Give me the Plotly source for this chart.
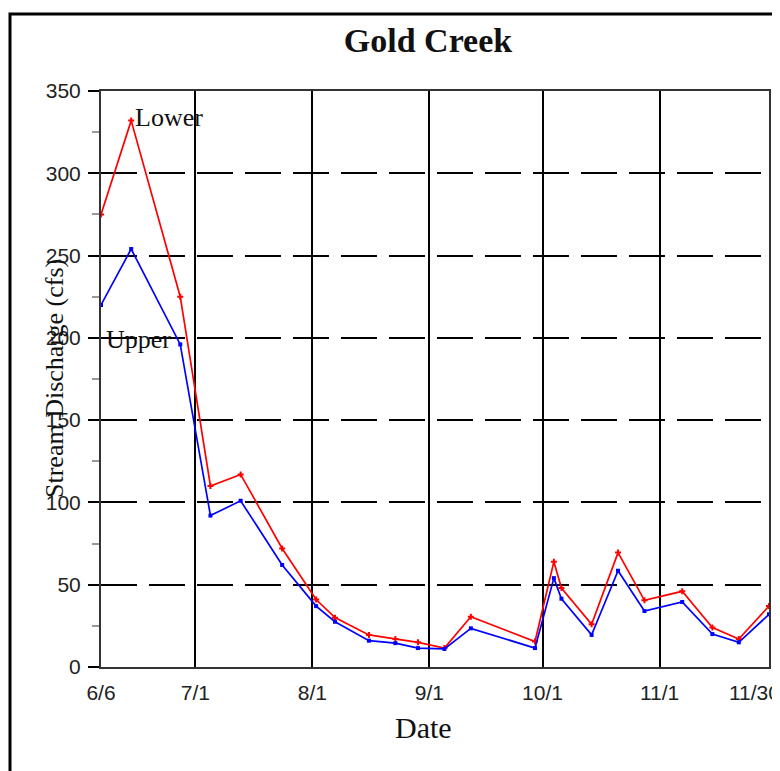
import plotly.graph_objects as go

# ---- data ----
dates = ["2001-06-06", "2001-06-14", "2001-06-27", "2001-07-05", "2001-07-13",
         "2001-07-24", "2001-08-02", "2001-08-07", "2001-08-16", "2001-08-23",
         "2001-08-29", "2001-09-05", "2001-09-12", "2001-09-29", "2001-10-04",
         "2001-10-06", "2001-10-14", "2001-10-21", "2001-10-28", "2001-11-07",
         "2001-11-15", "2001-11-22", "2001-11-30"]
lower = [275, 332, 225, 110, 117, 72, 41, 30, 19.5, 17, 15, 11.5, 30.5, 15.5,
         64, 48, 26, 69.5, 40.5, 46, 24, 17, 37]
upper = [220, 254, 196, 92, 101, 62, 37, 27.5, 16, 14.5, 11.5, 11, 23.5, 11.5,
         54, 41.5, 19.5, 58.5, 34, 39.5, 20, 15, 32]

x_tickvals = ["2001-06-06", "2001-07-01", "2001-08-01", "2001-09-01",
              "2001-10-01", "2001-11-01", "2001-11-30"]
x_ticktext = ["6/6", "7/1", "8/1", "9/1", "10/1", "11/1",
              "11/30" + "\u00a0" * 5]
y_tickvals = [0, 50, 100, 150, 200, 250, 300, 350]

title_text = "Gold Creek"
y_title = "Stream Discharge (cfs)"
x_title = "Date"

SERIF = "Liberation Serif, Times New Roman, serif"
SANS = "Liberation Sans, Arial, sans-serif"

# the page body adds an 8px offset; target plot area (screen px): x 101-769, y 91-667
OFF = 8
L, T, PW, PH = 101 - OFF, 91 - OFF, 668, 576
W, H = 780, 771

fig = go.Figure()
fig.add_trace(go.Scatter(x=dates, y=lower, mode="lines+markers", name="Lower",
                         line=dict(color="#ff0000", width=1.7),
                         marker=dict(symbol="cross", size=5, color="#ff0000")))
fig.add_trace(go.Scatter(x=dates, y=upper, mode="lines+markers", name="Upper",
                         line=dict(color="#0000ff", width=1.7),
                         marker=dict(symbol="square", size=4, color="#0000ff")))

fig.update_layout(
    width=W, height=H,
    margin=dict(l=L, r=W - L - PW, t=T, b=H - T - PH, autoexpand=False),
    paper_bgcolor="white", plot_bgcolor="white",
    showlegend=False,
    title=dict(text="<b>" + title_text + "</b>", x=(428 - OFF) / W,
               y=1 - (40 - OFF) / H, xanchor="center", yanchor="middle",
               font=dict(family=SERIF, size=34, color="#111")),
)

fig.update_xaxes(
    type="date", range=["2001-06-06", "2001-11-30"],
    tickvals=x_tickvals, ticktext=x_ticktext,
    showgrid=True, gridcolor="#000", gridwidth=2,
    ticks="", ticklabelstandoff=6, ticklabeloverflow="allow",
    tickfont=dict(family=SANS, size=21, color="#222"),
    showline=True, linecolor="#333", linewidth=2, mirror=True,
    zeroline=False, automargin=False,
)
fig.update_yaxes(
    range=[0, 350], tickvals=y_tickvals,
    showgrid=True, gridcolor="#000", gridwidth=2, griddash="36px,12px",
    ticks="outside", ticklen=11, tickwidth=2, tickcolor="#000",
    ticklabelstandoff=3,
    tickfont=dict(family=SANS, size=21, color="#222"),
    minor=dict(dtick=25, tick0=25, ticks="outside", ticklen=7,
               tickcolor="#999", tickwidth=1.5, showgrid=False),
    showline=True, linecolor="#333", linewidth=2, mirror=True,
    zeroline=False, automargin=False,
)

# screen px -> paper coords
def px_x(px):
    return (px - 101) / PW

def px_y(py):
    return (667 - py) / PH

# axis titles and series labels
fig.add_annotation(text=y_title, xref="paper", yref="paper",
                   x=px_x(54), y=0.5, textangle=-90,
                   showarrow=False, xanchor="center", yanchor="middle",
                   font=dict(family=SERIF, size=26, color="#111"))
fig.add_annotation(text=x_title, xref="paper", yref="paper",
                   x=px_x(423), y=px_y(727),
                   showarrow=False, xanchor="center", yanchor="middle",
                   font=dict(family=SERIF, size=30, color="#111"))
fig.add_annotation(text="Lower", x="2001-06-14 12:00", y=334,
                   showarrow=False, xanchor="left", yanchor="middle",
                   font=dict(family=SERIF, size=26, color="#111"))
fig.add_annotation(text="Upper", x="2001-06-06 18:00", y=199,
                   showarrow=False, xanchor="left", yanchor="middle",
                   font=dict(family=SERIF, size=26, color="#111"))

# outer frame
fig.add_shape(type="rect", xref="paper", yref="paper", layer="above",
              x0=px_x(10), x1=px_x(775), y0=px_y(820), y1=px_y(14),
              line=dict(color="#000", width=3), fillcolor="rgba(0,0,0,0)")
fig.add_shape(type="rect", xref="paper", yref="paper", layer="above",
              x0=px_x(774), x1=px_x(781), y0=px_y(820), y1=px_y(14),
              line=dict(width=0), fillcolor="#000")

fig.write_html("out.html")
